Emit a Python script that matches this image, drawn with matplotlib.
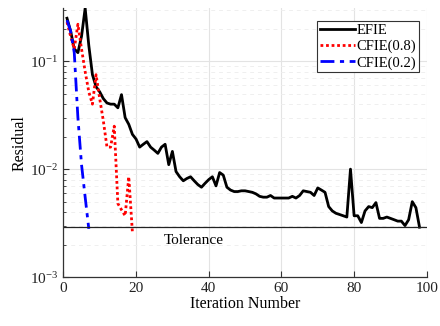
import numpy as np
import matplotlib
matplotlib.use("Agg")
import matplotlib.pyplot as plt

plt.rcParams["font.family"] = ["Liberation Serif", "DejaVu Serif"]
plt.rcParams["mathtext.fontset"] = "stix"

# Residual histories
efie_iter = np.arange(1, 99)
efie_res = [0.25, 0.19, 0.13, 0.12, 0.17, 0.31, 0.14, 0.075, 0.058, 0.052,
            0.045, 0.041, 0.040, 0.040, 0.037, 0.049, 0.030, 0.026, 0.021, 0.019,
            0.016, 0.017, 0.018, 0.016, 0.015, 0.014, 0.016, 0.017, 0.011, 0.0146,
            0.0095, 0.0085, 0.0078, 0.0082, 0.0085, 0.0078, 0.0072, 0.0068, 0.0074, 0.0080,
            0.0085, 0.0070, 0.0093, 0.0088, 0.0068, 0.0064, 0.0062, 0.0062, 0.0063, 0.0063,
            0.0062, 0.0061, 0.0059, 0.0056, 0.0055, 0.0055, 0.0057, 0.0054, 0.0054, 0.0054,
            0.0054, 0.0054, 0.0056, 0.0054, 0.0057, 0.0063, 0.0062, 0.0061, 0.0057, 0.0067,
            0.0064, 0.0061, 0.0045, 0.0041, 0.0039, 0.0038, 0.0037, 0.0036, 0.0100, 0.0037,
            0.0037, 0.0032, 0.0041, 0.0045, 0.0044, 0.0049, 0.0035, 0.0035, 0.0036, 0.0035,
            0.0034, 0.0033, 0.0033, 0.0030, 0.0034, 0.0050, 0.0044, 0.0029]

cfie08_iter = np.arange(1, 20)
cfie08_res = [0.23, 0.17, 0.13, 0.22, 0.13, 0.08, 0.052, 0.040, 0.075, 0.045,
              0.028, 0.016, 0.016, 0.025, 0.0048, 0.0042, 0.0037, 0.0085, 0.0026]

cfie02_iter = np.arange(1, 8)
cfie02_res = [0.24, 0.19, 0.12, 0.03, 0.011, 0.0055, 0.0028]

tolerance = 0.0029

fig = plt.figure(figsize=(4.4, 3.26), dpi=100)
ax = fig.add_axes([0.144, 0.150, 0.826, 0.825])

ax.plot(efie_iter, efie_res, color="black", lw=2.0, label="EFIE")
ax.plot(cfie08_iter, cfie08_res, color="red", lw=2.0, ls=(0, (1, 1)), label="CFIE(0.8)")
ax.plot(cfie02_iter, cfie02_res, color="blue", lw=2.0, ls=(0, (5, 2, 1.5, 2)), label="CFIE(0.2)")
ax.plot([0, 100], [tolerance, tolerance], color="#222222", lw=0.9)
ax.text(27.5, 0.0022, "Tolerance", fontsize=11, va="center", ha="left")

ax.set_yscale("log")
ax.set_xlim(0, 100)
ax.set_ylim(1e-3, 0.31)
ax.set_xticks([0, 20, 40, 60, 80, 100])

ax.grid(True, which="major", color="#e3e3e3", lw=0.8)
ax.grid(True, which="minor", axis="y", color="#efefef", lw=0.7, ls=(0, (4, 4)))
ax.set_axisbelow(True)

for s in ["top", "right"]:
    ax.spines[s].set_visible(False)
for s in ["left", "bottom"]:
    ax.spines[s].set_color("#333333")
    ax.spines[s].set_linewidth(0.9)
ax.tick_params(which="both", direction="in", colors="#333333", labelsize=11,
               labelcolor="#222222")
ax.tick_params(which="major", length=4)
ax.tick_params(which="minor", length=2)

ax.set_xlabel("Iteration Number", fontsize=11.5, labelpad=1)
ax.set_ylabel("Residual", fontsize=11.5, labelpad=2)

leg = ax.legend(loc="upper right", bbox_to_anchor=(0.99, 0.97), fontsize=10.5,
                handlelength=2.4, handletextpad=0.1, borderpad=0.2,
                labelspacing=0.2, fancybox=False, framealpha=1,
                borderaxespad=0.3)
leg.get_frame().set_edgecolor("#333333")
leg.get_frame().set_linewidth(0.8)

fig.savefig("out.png", dpi=100)
